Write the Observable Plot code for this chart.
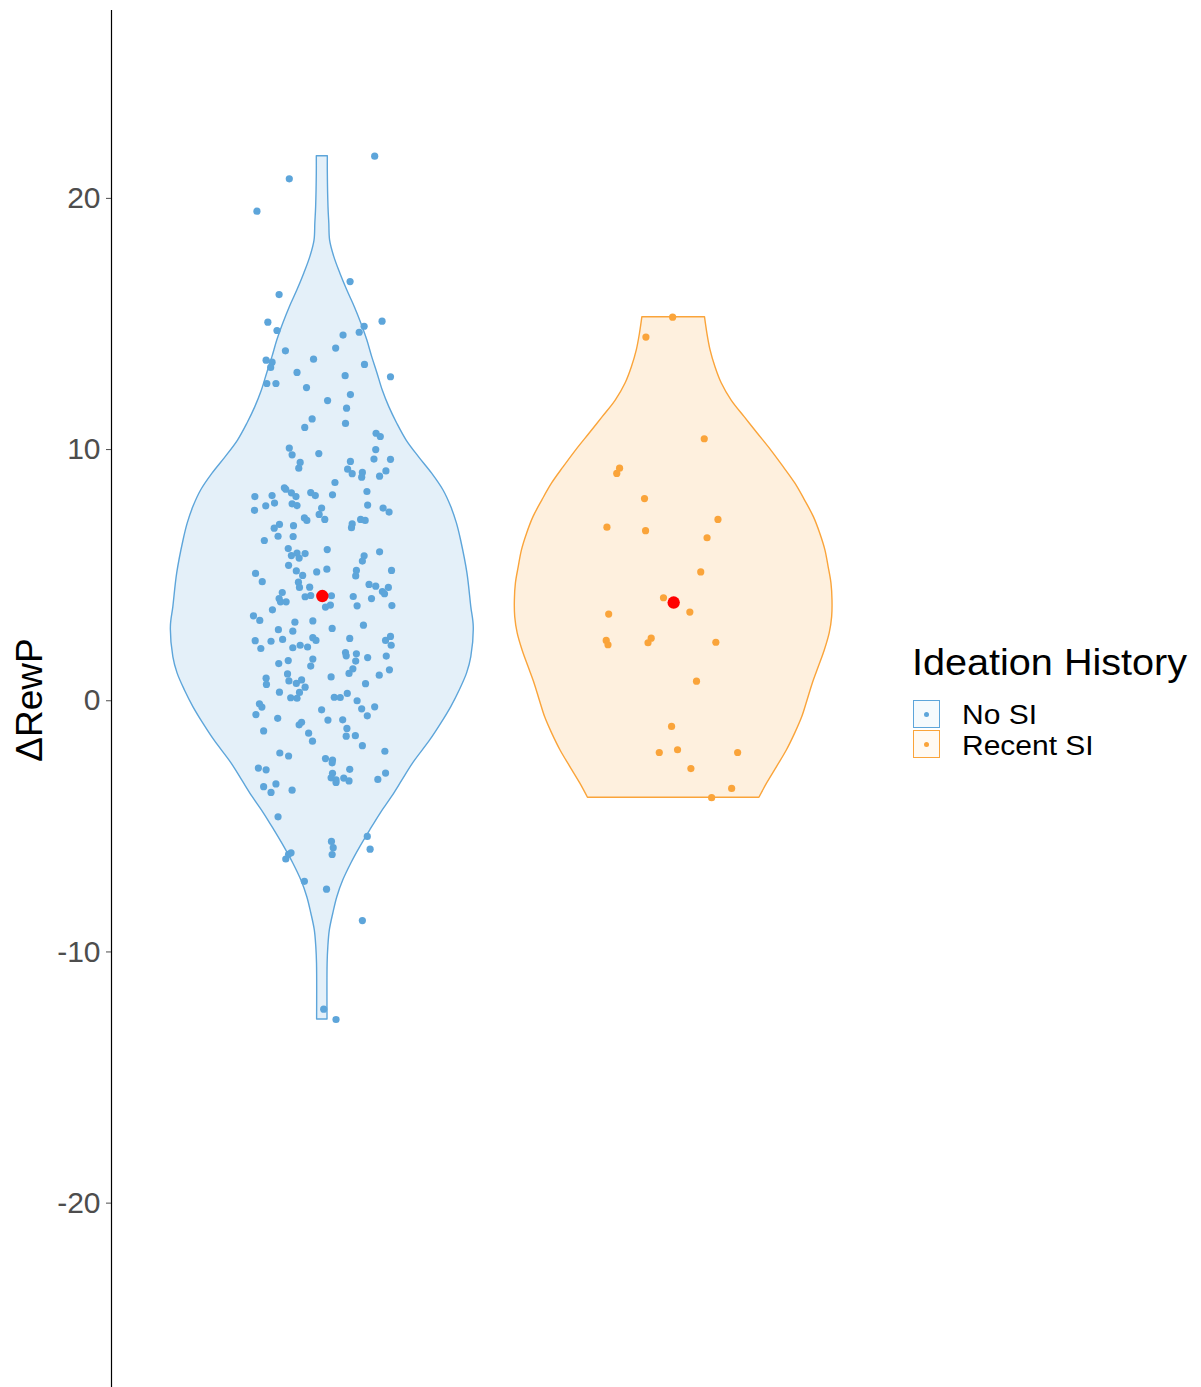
<!DOCTYPE html>
<html><head><meta charset="utf-8">
<script src="https://cdn.jsdelivr.net/npm/d3@7"></script>
<script src="https://cdn.jsdelivr.net/npm/@observablehq/plot@0.6"></script>
<style>
body{margin:0;background:#fff;font-family:"Liberation Sans",Arial,sans-serif;}
#wrap{position:relative;width:1201px;height:1387px;overflow:hidden;background:#fff;}
#wrap svg{position:absolute;left:0;top:0;}
.ylab{position:absolute;left:29px;top:700px;font-size:37px;line-height:37px;white-space:nowrap;color:#000;transform:translate(-50%,-50%) rotate(-90deg);}
.ltitle{position:absolute;left:912px;top:644px;font-size:37px;line-height:37px;white-space:nowrap;color:#000;transform:scaleX(1.07);transform-origin:left center;}
.lkey{position:absolute;left:913px;width:27px;height:28px;box-sizing:border-box;border:1.5px solid;}
.lkey i{position:absolute;left:50%;top:50%;width:5px;height:5px;margin:-2.5px 0 0 -2.5px;border-radius:50%;}
.llab{position:absolute;left:962px;font-size:27.5px;line-height:27.5px;white-space:nowrap;color:#000;transform:scaleX(1.09);transform-origin:left center;}
</style></head><body><div id="wrap"></div>
<script>
// ---- data ----
const groups = ["No SI", "Recent SI"];
const groupColors = ["#5DA5DA", "#FAA43A"];
const groupMeans = [4.17, 3.91];
const yTicks = [20, 10, 0, -10, -20];
const yLabel = "ΔRewP";
const legendTitle = "Ideation History";

// No SI: ΔRewP values and horizontal jitter (category units)
const noSIValues = [
21.68,20.78,19.49,16.69,16.17,15.07,15.11,14.74,14.91,14.67,14.56,14.04,13.93,13.56,13.48,13.27,13.60,13.39,13.07,12.90,12.94,12.63,12.63,12.47,12.19,11.95,11.65,11.22,10.88,11.04,10.65,10.52,
10.06,9.79,9.84,9.49,9.26,9.53,9.62,10.00,9.61,9.22,9.04,9.09,8.90,8.94,9.15,8.69,8.13,7.58,7.76,8.17,7.87,8.48,8.42,8.28,8.13,7.84,7.77,8.29,8.17,8.20,8.33,7.79,7.67,7.51,7.67,7.42,7.22,7.28,7.18,7.22,7.18,7.04,6.89,7.02,6.87,6.55,6.97,6.54,6.38,6.06,5.78,5.88,5.68,5.86,6.02,5.93,5.77,5.56,5.39,5.17,4.99,5.13,5.24,5.19,4.97,5.19,5.07,4.74,4.72,4.51,4.52,4.31,4.07,3.94,3.94,4.14,4.19,4.18,3.73,3.81,4.15,3.78,4.07,4.63,4.56,4.35,4.26,4.51,3.79,3.38,3.20,3.62,3.13,3.18,2.77,2.83,2.88,3.01,2.39,2.08,2.37,2.44,2.11,2.21,2.14,2.51,2.40,2.48,1.92,1.79,1.87,1.58,1.72,1.78,2.40,2.56,2.21,1.48,1.60,1.66,1.38,0.90,0.65,1.07,0.79,0.69,0.83,0.54,0.95,1.27,1.09,0.68,1.02,1.23,0.34,0.12,0.10,0.33,-0.12,-0.25,-0.55,-0.70,-0.36,0.14,0.13,0.29,0.00,-0.32,-0.60,-0.24,-0.77,-0.76,-0.96,-0.86,-1.29,-1.20,-1.10,-1.39,-1.41,
-1.61,-1.79,-2.01,-2.08,-2.20,-2.30,-2.36,-2.47,-2.68,-2.75,-2.89,-2.73,-3.07,-3.15,-3.25,-3.08,-3.19,-3.13,-2.88,-3.42,-3.65,-3.31,-3.56,-4.62,-5.60,-5.85,-6.12,-5.40,-5.91,-6.11,-6.05,-6.30,-7.19,-7.50,-8.75,-12.28,-12.69
];
const noSIJitter = [
0.149,-0.094,-0.186,0.079,-0.123,-0.155,0.170,-0.129,0.119,0.105,0.059,0.038,-0.105,-0.160,-0.143,-0.147,-0.025,0.120,-0.072,0.194,0.065,-0.158,-0.132,-0.045,0.080,0.015,0.069,-0.029,-0.050,0.066,0.153,0.165,
-0.094,-0.086,-0.010,-0.063,-0.067,0.080,0.147,0.152,0.194,0.072,0.085,0.114,0.112,0.163,0.181,0.036,-0.192,-0.193,-0.161,-0.143,-0.136,-0.108,-0.104,-0.088,-0.075,-0.086,-0.072,-0.033,-0.020,0.029,0.127,0.129,0.173,0.190,-0.002,-0.009,0.007,-0.051,-0.044,0.109,0.122,0.085,0.083,-0.122,-0.137,-0.126,-0.082,-0.083,-0.165,-0.097,-0.088,-0.072,-0.066,-0.049,0.014,0.163,0.119,0.114,-0.096,-0.074,-0.056,-0.016,0.013,0.097,0.095,0.197,-0.190,-0.171,-0.068,-0.065,-0.036,-0.114,-0.123,-0.119,-0.103,-0.049,-0.033,0.026,0.009,0.023,0.088,0.099,0.140,0.133,0.152,0.171,0.177,0.188,0.198,-0.196,-0.178,-0.142,-0.078,-0.027,-0.084,-0.125,0.028,0.117,-0.191,-0.175,-0.146,-0.113,-0.084,-0.063,-0.042,-0.027,-0.018,0.078,0.066,0.068,0.097,0.095,0.129,0.182,0.180,0.194,0.196,-0.124,-0.097,-0.027,-0.033,-0.160,-0.159,-0.099,-0.095,-0.074,-0.059,-0.049,0.025,0.087,0.076,0.123,0.162,0.191,-0.122,-0.090,-0.072,-0.065,-0.179,-0.172,-0.189,-0.127,-0.002,0.034,0.051,0.071,0.099,0.112,0.128,0.149,0.016,0.058,-0.066,-0.059,-0.039,-0.167,0.070,0.094,0.068,
-0.028,0.114,0.178,-0.121,-0.096,0.009,0.029,0.028,-0.182,-0.160,0.029,0.078,0.025,0.039,0.039,0.061,0.076,0.158,0.180,-0.167,-0.146,-0.132,-0.086,-0.126,0.026,0.031,0.028,0.128,0.136,-0.096,-0.089,-0.104,-0.051,0.012,0.114,0.004,0.039
];

// Recent SI
const recentValues = [15.27,14.48,10.43,9.26,9.05,8.05,6.91,6.77,7.22,6.49,5.13,4.10,3.53,3.45,2.40,2.23,2.49,2.31,2.33,0.78,-1.02,-2.06,-1.95,-2.06,-2.70,-3.49,-3.86];
const recentJitter = [-0.003,-0.079,0.087,-0.154,-0.162,-0.083,-0.190,-0.080,0.126,0.095,0.077,-0.029,0.046,-0.185,-0.192,-0.187,-0.064,-0.073,0.120,0.065,-0.006,-0.041,0.011,0.182,0.049,0.165,0.108];

// Violin outlines: ΔRewP level and half-width (category units)
const violinNoSIY = [21.68,20.99,19.65,19.00,18.32,17.66,17.01,16.33,15.67,15.02,14.35,13.68,13.03,12.35,11.68,11.04,10.36,9.70,9.05,8.37,7.71,7.06,6.38,5.07,3.73,2.93,1.74,1.09,0.41,-0.25,-0.90,-1.58,-2.50,-3.17,-3.84,-4.49,-5.17,-5.83,-6.48,-7.15,-7.82,-8.47,-9.15,-9.81,-10.46,-12.69];
const violinNoSIW = [0.0157,0.0157,0.0176,0.0199,0.0222,0.0342,0.0512,0.0712,0.0925,0.111,0.128,0.142,0.157,0.172,0.191,0.213,0.240,0.275,0.312,0.345,0.367,0.383,0.395,0.413,0.424,0.431,0.424,0.412,0.391,0.367,0.339,0.307,0.258,0.228,0.198,0.166,0.136,0.108,0.0826,0.0598,0.0427,0.0313,0.0213,0.0171,0.0151,0.0148];
const violinRecentY = [15.27,14.62,13.95,13.28,12.63,11.95,11.29,10.64,9.96,9.30,8.65,7.97,7.31,6.66,5.98,5.32,4.67,3.99,3.33,2.68,2.00,1.34,0.69,0.01,-0.65,-1.30,-1.98,-2.64,-3.29,-3.86];
const violinRecentW = [0.0891,0.0959,0.105,0.119,0.137,0.165,0.202,0.239,0.278,0.313,0.346,0.374,0.399,0.417,0.432,0.441,0.449,0.452,0.451,0.444,0.430,0.413,0.396,0.381,0.366,0.346,0.322,0.294,0.266,0.244];

// ---- build tables ----
const violinTables = [
  violinNoSIY.map((y, i) => ({g: 0, y, w: violinNoSIW[i]})),
  violinRecentY.map((y, i) => ({g: 1, y, w: violinRecentW[i]}))
];
const points = [
  ...noSIValues.map((y, i) => ({g: 0, y, j: noSIJitter[i]})),
  ...recentValues.map((y, i) => ({g: 1, y, j: recentJitter[i]}))
];
const means = groupMeans.map((y, g) => ({g, y}));
const pos = g => g + 1;

const marks = [];
violinTables.forEach((tab, g) => {
  marks.push(Plot.areaX(tab, {
    y: "y", x1: d => pos(d.g) - d.w, x2: d => pos(d.g) + d.w,
    fill: groupColors[g], fillOpacity: 0.17,
    stroke: groupColors[g], strokeWidth: 1.4, curve: "catmull-rom"
  }));
});
marks.push(Plot.dot(points, {x: d => pos(d.g) + d.j, y: "y", r: 3.6, fill: d => groupColors[d.g], stroke: "none"}));
marks.push(Plot.dot(means, {x: d => pos(d.g), y: "y", r: 6.2, fill: "#FF0000", stroke: "none"}));
marks.push(Plot.ruleX([0.4], {stroke: "#000", strokeWidth: 1.2}));
marks.push(Plot.axisY(yTicks, {tickSize: 5, tickPadding: 6, fontSize: 30, color: "#4D4D4D", label: null, tickFormat: d => String(d)}));

const chart = Plot.plot({
  width: 1201, height: 1387,
  marginLeft: 111, marginRight: 317, marginTop: 10, marginBottom: 0,
  x: {type: "linear", domain: [0.4, 2.6], axis: null},
  y: {domain: [-27.34, 27.48], label: null},
  style: {fontFamily: "Liberation Sans, Arial, sans-serif", background: "#fff", overflow: "visible"},
  marks
});
const wrap = document.getElementById("wrap");
wrap.appendChild(chart);

// y label
const yl = document.createElement("div");
yl.className = "ylab"; yl.textContent = yLabel; wrap.appendChild(yl);

// legend
const lt = document.createElement("div");
lt.className = "ltitle"; lt.textContent = legendTitle; wrap.appendChild(lt);
const keyTops = [700, 730], labTops = [700.5, 731.5];
groups.forEach((name, g) => {
  const k = document.createElement("div");
  k.className = "lkey";
  k.style.top = keyTops[g] + "px";
  k.style.borderColor = groupColors[g];
  k.style.background = d3.color(groupColors[g]).copy({opacity: 0.06}).toString();
  const dot = document.createElement("i");
  dot.style.background = groupColors[g];
  k.appendChild(dot);
  wrap.appendChild(k);
  const l = document.createElement("div");
  l.className = "llab"; l.style.top = labTops[g] + "px"; l.textContent = name;
  wrap.appendChild(l);
});
</script></body></html>
